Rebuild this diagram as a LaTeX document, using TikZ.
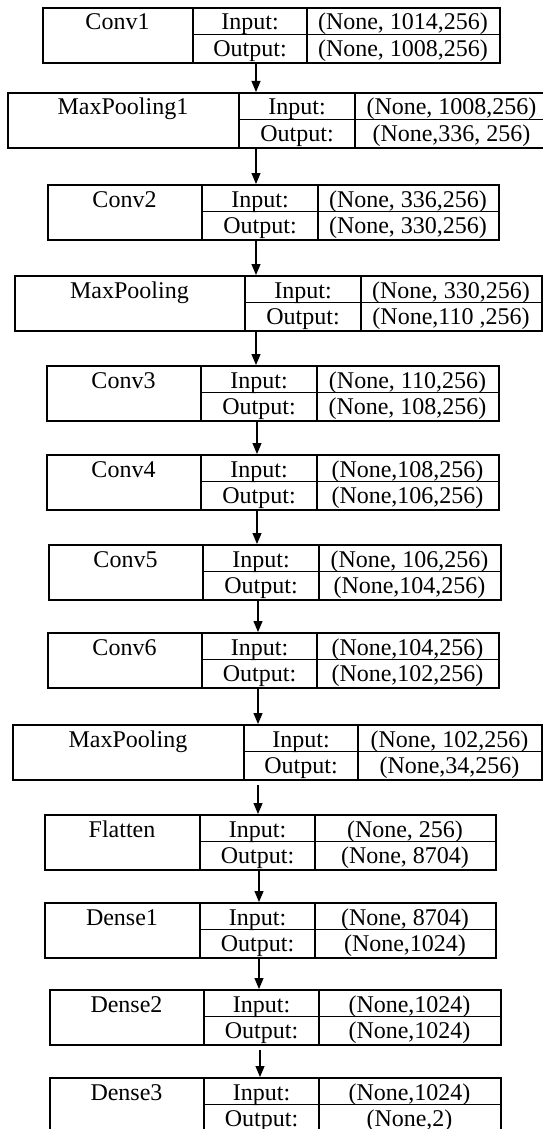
\documentclass[tikz,border=0pt]{standalone}
\usepackage{fontspec}
\setmainfont{Liberation Serif}
\usetikzlibrary{arrows.meta}
\tikzset{
  layerbox/.style={draw, line width=1.8pt, rectangle, inner sep=0pt, anchor=north west},
  cellline/.style={line width=1.8pt},
  lbl/.style={inner sep=0pt, anchor=base, font=\fontsize{24}{28}\selectfont},
  arr/.style={line width=1.2pt, -{Triangle[width=9pt,length=11pt]}},
}
% #1 id, #2 top, #3 left, #4 divider1, #5 divider2, #6 right, #7 name, #8 input, #9 output
\newcommand\nnlayer[9]{%
  \pgfmathsetmacro\nnw{#6-#3}%
  \node[layerbox, minimum width=\nnw pt, minimum height=55pt] (#1) at (#3,#2) {};
  \draw[cellline] (#4,#2) -- (#4,{#2+55});
  \draw[cellline] (#5,#2) -- (#5,{#2+55});
  \draw[cellline] (#4,{#2+27.5}) -- (#6,{#2+27.5});
  \node[lbl] (#1n) at ({(#3+#4)/2},{#2+23}) {#7};
  \node[lbl] (#1i) at ({(#4+#5)/2},{#2+23}) {Input:};
  \node[lbl] (#1iv) at ({(#5+#6)/2},{#2+23}) {#8};
  \node[lbl] (#1o) at ({(#4+#5)/2},{#2+49.5}) {Output:};
  \node[lbl] (#1ov) at ({(#5+#6)/2},{#2+49.5}) {#9};
}
\begin{document}
\begin{tikzpicture}[x=1pt,y=-1pt]
\useasboundingbox (0,0) rectangle (543,1129);
\nnlayer{conv1}{7}{42}{193}{307}{499}{Conv1}{(None, 1014,256)}{(None, 1008,256)}
\nnlayer{mp1}{92}{7}{239}{355}{548}{MaxPooling1}{(None, 1008,256)}{(None,336, 256)}
\nnlayer{conv2}{184}{47}{202}{318}{498}{Conv2}{(None, 336,256)}{(None, 330,256)}
\nnlayer{mp2}{275}{14}{245}{361}{541}{MaxPooling}{(None, 330,256)}{(None,110 ,256)}
\nnlayer{conv3}{365}{46}{201}{317}{498}{Conv3}{(None, 110,256)}{(None, 108,256)}
\nnlayer{conv4}{454}{46}{201}{317}{498}{Conv4}{(None,108,256)}{(None,106,256)}
\nnlayer{conv5}{544}{48}{203}{319}{500}{Conv5}{(None, 106,256)}{(None,104,256)}
\nnlayer{conv6}{632}{47}{202}{317}{498}{Conv6}{(None,104,256)}{(None,102,256)}
\nnlayer{mp3}{724}{12}{244}{358}{541}{MaxPooling}{(None, 102,256)}{(None,34,256)}
\nnlayer{flat}{814}{44}{200}{315}{495}{Flatten}{(None, 256)}{(None, 8704)}
\nnlayer{dense1}{902}{44}{200}{315}{495}{Dense1}{(None, 8704)}{(None,1024)}
\nnlayer{dense2}{989}{49}{204}{319}{500}{Dense2}{(None,1024)}{(None,1024)}
\nnlayer{dense3}{1077}{49}{204}{319}{500}{Dense3}{(None,1024)}{(None,2)}
\coordinate (x1) at (256,0);
\coordinate (x2) at (257,0);
\coordinate (x3) at (258,0);
\coordinate (x4) at (259,0);
\coordinate (x5) at (260,0);
\draw[arr] (conv1.south -| x1) -- (mp1.north -| x1);
\draw[arr] (mp1.south -| x1) -- (conv2.north -| x1);
\draw[arr] (conv2.south -| x1) -- (mp2.north -| x1);
\draw[arr] (mp2.south -| x1) -- (conv3.north -| x1);
\draw[arr] (conv3.south -| x2) -- (conv4.north -| x2);
\draw[arr] (conv4.south -| x2) -- (conv5.north -| x2);
\draw[arr] (conv5.south -| x3) -- (conv6.north -| x3);
\draw[arr] (conv6.south -| x3) -- (mp3.north -| x3);
\draw[arr, shorten <=4pt] (mp3.south -| x3) -- (flat.north -| x3);
\draw[arr] (flat.south -| x4) -- (dense1.north -| x4);
\draw[arr] (dense1.south -| x4) -- (dense2.north -| x4);
\draw[arr, shorten <=4pt] (dense2.south -| x5) -- (dense3.north -| x5);
\end{tikzpicture}
\end{document}
